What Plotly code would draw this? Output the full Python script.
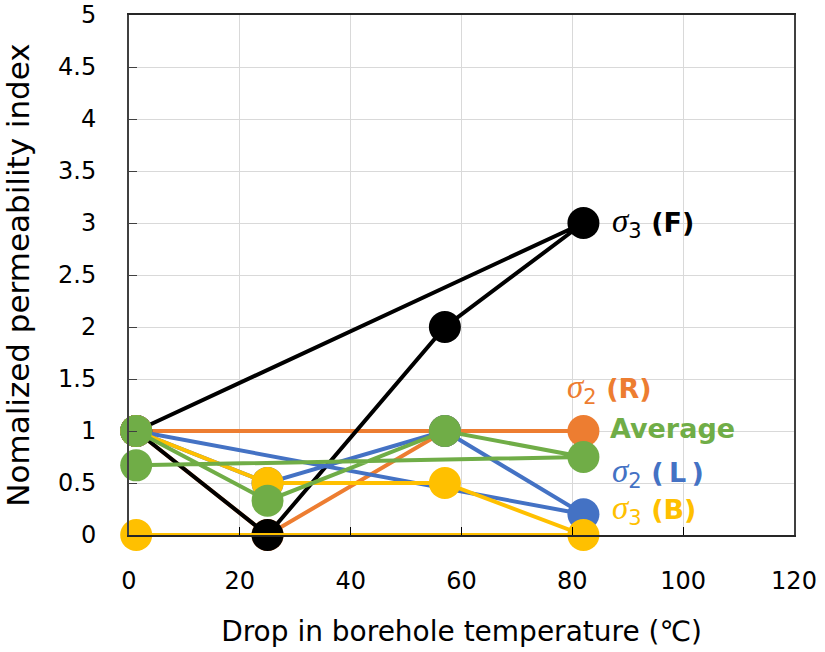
import plotly.graph_objects as go

# Data
x_temp = [1.3, 25, 57, 82, 1.3]
sigma2_R = [1, 0, 1, 1, 1]
sigma3_F = [1, 0, 2, 3, 1]
sigma2_L = [1, 0.5, 1, 0.2, 1]
sigma3_B = [1, 0.5, 0.5, 0, 0]
average = [1, 0.33, 1, 0.75, 0.67]

series_names = ["σ2 (R)", "σ3 (F)", "σ2 (L)", "σ3 (B)", "Average"]
series_values = [sigma2_R, sigma3_F, sigma2_L, sigma3_B, average]
series_colors = ["#ED7D31", "#000000", "#4472C4", "#FFC000", "#70AD47"]

x_ticks = [0, 20, 40, 60, 80, 100, 120]
y_ticks = [0, 0.5, 1, 1.5, 2, 2.5, 3, 3.5, 4, 4.5, 5]
y_ticktext = ["0", "0.5", "1", "1.5", "2", "2.5", "3", "3.5", "4", "4.5", "5"]

# Label texts and anchor positions (data coords)
sig = '<span style="font-family:Liberation Serif;font-size:33px"><i>σ</i></span>'


def tag(s):
    return '<span style="font-size:27px"><b>' + s + '</b></span>'


label_texts = [
    sig + '<sub>3</sub> ' + tag("(F)"),
    sig + '<sub>2</sub> ' + tag("(R)"),
    tag("Average"),
    sig + '<sub>2</sub> ' + tag("(\u2009L\u2009)"),
    sig + '<sub>3</sub> ' + tag("(B)"),
]
label_x = [86.8, 78.6, 86.4, 86.8, 86.8]
label_y = [3.0, 1.4, 1.02, 0.6, 0.24]
label_colors = ["#000000", "#ED7D31", "#70AD47", "#4472C4", "#FFC000"]

fig = go.Figure()
for name, vals, col in zip(series_names, series_values, series_colors):
    fig.add_trace(go.Scatter(
        x=x_temp, y=vals, mode="lines+markers", name=name,
        line=dict(color=col, width=4),
        marker=dict(color=col, size=32),
        cliponaxis=False, showlegend=False,
    ))

for t, lx, ly, c in zip(label_texts, label_x, label_y, label_colors):
    fig.add_annotation(x=lx, y=ly, xref="x", yref="y", text=t, showarrow=False,
                       xanchor="left", yanchor="middle",
                       font=dict(family="DejaVu Sans", size=30, color=c))

axis_font = dict(family="DejaVu Sans", size=24, color="#000000")
fig.update_xaxes(
    range=[0, 120], tickvals=x_ticks, ticks="inside", ticklen=8, tickcolor="#000000",
    showgrid=True, gridcolor="#D9D9D9", gridwidth=1,
    showline=True, linecolor="#262626", linewidth=2, mirror=True,
    tickfont=axis_font, ticklabelstandoff=23, zeroline=False, automargin=False,
    title=dict(text="Drop in borehole temperature (℃)",
               font=dict(family="DejaVu Sans", size=28, color="#000000"), standoff=28),
)
fig.update_yaxes(
    range=[0, 5], tickvals=y_ticks, ticktext=y_ticktext, ticks="inside", ticklen=8,
    tickcolor="#404040",
    showgrid=True, gridcolor="#D9D9D9", gridwidth=1,
    showline=True, linecolor="#404040", linewidth=2, mirror=True,
    tickfont=axis_font, ticklabelstandoff=26, zeroline=False, automargin=False,
    title=dict(text="Nomalized permeability index",
               font=dict(family="DejaVu Sans", size=31, color="#000000"), standoff=24),
)
fig.update_layout(
    width=825, height=652,
    margin=dict(l=129, r=31, t=15, b=117),
    plot_bgcolor="white", paper_bgcolor="white",
)
fig.write_html("out.html", config={"displayModeBar": False},
               post_script="document.body.style.margin='0';")
